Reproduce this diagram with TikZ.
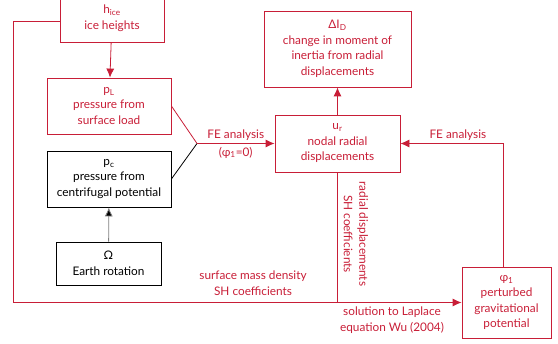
\documentclass[tikz,border=0pt]{standalone}
\usepackage{fontspec}
\setmainfont{Lato}
\usepackage{tikz}
\usetikzlibrary{arrows.meta, calc}
\definecolor{flowred}{RGB}{200,30,55}
\tikzstyle{block} = [rectangle, draw=flowred, text=flowred,
    align=center, inner sep=1pt, line width=0.8pt]
\tikzstyle{blackblock} = [block, draw=black, text=black]
\tikzstyle{label} = [text=flowred, align=center, inner sep=1pt]
\tikzstyle{line} = [draw=flowred, line width=0.8pt]
\tikzstyle{arrow} = [line, -{Latex[length=9pt,width=8pt]}]

\begin{document}
\begin{tikzpicture}[x=1pt, y=-1pt, font=\fontsize{11.8}{15.5}\selectfont]
    \useasboundingbox (0,0) rectangle (558,344);
    % Nodes
    \node [block, minimum width=104pt, minimum height=48pt] (hice) at (112,18)
        {h\textsubscript{ice}\\ice heights};
    \node [block, minimum width=124pt, minimum height=56pt] (pL) at (109,106)
        {p\textsubscript{L}\\pressure from\\surface load};
    \node [blackblock, minimum width=124pt, minimum height=56pt] (pc) at (109,179)
        {p\textsubscript{c}\\pressure from\\centrifugal potential};
    \node [blackblock, minimum width=105pt, minimum height=43pt] (omega) at (108.5,263.5)
        {Ω\\Earth rotation};
    \node [block, minimum width=147pt, minimum height=76pt] (dI) at (337.5,49)
        {ΔI\textsubscript{D}\\change in moment of\\inertia from radial\\displacements};
    \node [block, minimum width=125pt, minimum height=57pt] (ur) at (337.5,143.5)
        {u\textsubscript{r}\\nodal radial\\displacements};
    \node [block, minimum width=89pt, minimum height=71pt] (phi) at (506.5,302.5)
        {φ\textsubscript{1}\\perturbed\\gravitational\\potential};
    \coordinate (join) at (197,143.5);

    % Labels
    \node [label] (smd) at (253,283) {surface mass density\\SH coefficients};
    \node [label, rotate=-90] (rdsh) at (356,234) {radial displacements\\SH coefficients};
    \node [label] (wu) at (392,320) {solution to Laplace\\equation Wu (2004)};

    % Arrows
    \draw [arrow] (hice) -- (pL);
    \draw [arrow, draw=gray, -{Latex[length=9pt,width=8pt,fill=black]}] (omega) -- (pc);
    \draw [line] (pL.east) -- (join);
    \draw [line, draw=black] (pc.east) -- (join);
    \draw [arrow] (join) -- node [label, above=2pt] {FE analysis}
        node [label, below=2pt] {(φ\textsubscript{1}=0)} (ur);
    \draw [arrow] (ur) -- (dI);
    \draw [arrow] ([yshift=-3pt]hice.west) -- ++(-46,0) |- (phi.west);
    \draw [line] (ur.south) -- (ur.south |- phi.west);
    \draw [arrow] ([xshift=-3.5pt]phi.north) |- node [label, pos=0.72, above=2pt] {FE analysis} (ur.east);
\end{tikzpicture}
\end{document}
